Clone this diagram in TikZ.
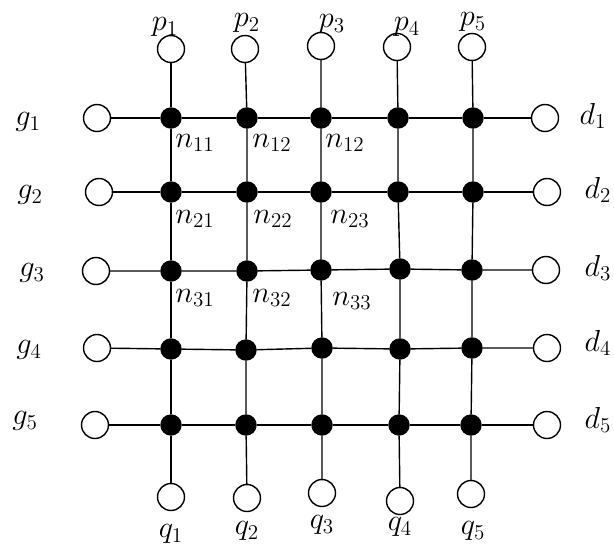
\documentclass[tikz,border=0pt]{standalone}
\usepackage{tikz}

\begin{document}
\begin{tikzpicture}[x=0.02cm,y=-0.02cm]
    \useasboundingbox (0,0) rectangle (614,548);

    \tikzstyle{edge}=[line width=0.8pt,draw=black]
    \tikzstyle{snode}=[
      circle,
      draw=black,
      fill=black,
      anchor=center,
      line width=0.8pt,
      inner sep=0pt,
      minimum size=0.4cm,
    ]
    \tikzstyle{port}=[
      snode,
      fill=white,
      minimum size=0.54cm,
    ]
    \tikzstyle{tag}=[font=\LARGE,inner sep=0pt]

    {
      \node[snode] (n11) at (171,118) {};
      \node[snode] (n12) at (247,118) {};
      \node[snode] (n13) at (321,118) {};
      \node[snode] (n14) at (398,118) {};
      \node[snode] (n15) at (473,118) {};

      \node[snode] (n21) at (171,192) {};
      \node[snode] (n22) at (247,192) {};
      \node[snode] (n23) at (321,192) {};
      \node[snode] (n24) at (398,192) {};
      \node[snode] (n25) at (473,192) {};

      \node[snode] (n31) at (171,271) {};
      \node[snode] (n32) at (247,271) {};
      \node[snode] (n33) at (321,270) {};
      \node[snode] (n34) at (400,269) {};
      \node[snode] (n35) at (472,270) {};

      \node[snode] (n41) at (171,349) {};
      \node[snode] (n42) at (246,350) {};
      \node[snode] (n43) at (322,348) {};
      \node[snode] (n44) at (400,349) {};
      \node[snode] (n45) at (472,348) {};

      \node[snode] (n51) at (171,425) {};
      \node[snode] (n52) at (246,425) {};
      \node[snode] (n53) at (322,425) {};
      \node[snode] (n54) at (399,425) {};
      \node[snode] (n55) at (471,425) {};
    }

    {
      \node[port] (p1) at (171,49) {};
      \node[port] (p2) at (245,49) {};
      \node[port] (p3) at (321,46) {};
      \node[port] (p4) at (397,47) {};
      \node[port] (p5) at (472,47) {};

      \node[port] (q1) at (171,497) {};
      \node[port] (q2) at (247,498) {};
      \node[port] (q3) at (322,493) {};
      \node[port] (q4) at (400,501) {};
      \node[port] (q5) at (471,494) {};

      \node[port] (g1) at (97,118) {};
      \node[port] (g2) at (99,192) {};
      \node[port] (g3) at (96,271) {};
      \node[port] (g4) at (97,348) {};
      \node[port] (g5) at (95,425) {};

      \node[port] (d1) at (545,118) {};
      \node[port] (d2) at (547,192) {};
      \node[port] (d3) at (546,270) {};
      \node[port] (d4) at (547,348) {};
      \node[port] (d5) at (547,425) {};
    }

    {
      \draw[edge] (g1)--(n11)--(n12)--(n13)--(n14)--(n15)--(d1);
      \draw[edge] (g2)--(n21)--(n22)--(n23)--(n24)--(n25)--(d2);
      \draw[edge] (g3)--(n31)--(n32)--(n33)--(n34)--(n35)--(d3);
      \draw[edge] (g4)--(n41)--(n42)--(n43)--(n44)--(n45)--(d4);
      \draw[edge] (g5)--(n51)--(n52)--(n53)--(n54)--(n55)--(d5);

      \draw[edge] (p1)--(n11)--(n21)--(n31)--(n41)--(n51)--(q1);
      \draw[edge] (p2)--(n12)--(n22)--(n32)--(n42)--(n52)--(q2);
      \draw[edge] (p3)--(n13)--(n23)--(n33)--(n43)--(n53)--(q3);
      \draw[edge] (p4)--(n14)--(n24)--(n34)--(n44)--(n54)--(q4);
      \draw[edge] (p5)--(n15)--(n25)--(n35)--(n45)--(n55)--(q5);
    }

    {
      \node[tag] (tp1) at (165,27) {$p_1$};
      \node[tag] (tp2) at (247,23) {$p_2$};
      \node[tag] (tp3) at (332,24) {$p_3$};
      \node[tag] (tp4) at (407,27) {$p_4$};
      \node[tag] (tp5) at (473,22) {$p_5$};

      \node[tag] (tq1) at (171,534) {$q_1$};
      \node[tag] (tq2) at (247,531) {$q_2$};
      \node[tag] (tq3) at (322,525) {$q_3$};
      \node[tag] (tq4) at (400,527) {$q_4$};
      \node[tag] (tq5) at (473,531) {$q_5$};

      \node[tag] (tg1) at (28,122) {$g_1$};
      \node[tag] (tg2) at (30,195) {$g_2$};
      \node[tag] (tg3) at (32,273) {$g_3$};
      \node[tag] (tg4) at (29,350) {$g_4$};
      \node[tag] (tg5) at (25,421) {$g_5$};

      \node[tag] (td1) at (593,116) {$d_1$};
      \node[tag] (td2) at (598,190) {$d_2$};
      \node[tag] (td3) at (598,268) {$d_3$};
      \node[tag] (td4) at (598,343) {$d_4$};
      \node[tag] (td5) at (598,420) {$d_5$};

      \node[tag] (tn11) at (195,143) {$n_{11}$};
      \node[tag] (tn12) at (272,143) {$n_{12}$};
      \node[tag] (tn13) at (345,143) {$n_{12}$};
      \node[tag] (tn21) at (195,219) {$n_{21}$};
      \node[tag] (tn22) at (273,219) {$n_{22}$};
      \node[tag] (tn23) at (350,219) {$n_{23}$};
      \node[tag] (tn31) at (195,298) {$n_{31}$};
      \node[tag] (tn32) at (272,298) {$n_{32}$};
      \node[tag] (tn33) at (352,301) {$n_{33}$};
    }
  \end{tikzpicture}
\end{document}
